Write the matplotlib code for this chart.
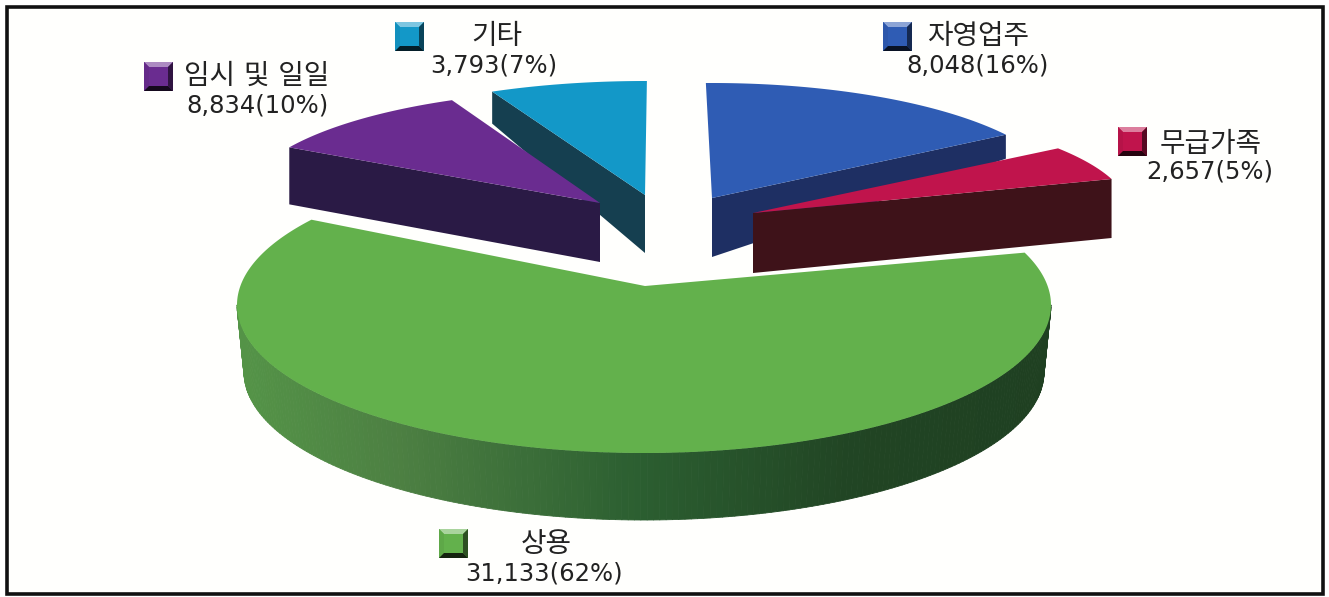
import numpy as np
import matplotlib
matplotlib.use("Agg")
import matplotlib.pyplot as plt
from matplotlib.patches import Polygon, Rectangle
from matplotlib.collections import PolyCollection
from matplotlib.colors import to_rgb

plt.rcParams['font.family'] = ['DejaVu Sans', 'Noto Sans CJK KR']

# data
categories = ["자영업주", "무급가족", "상용", "임시 및 일일", "기타"]
counts = [8048, 2657, 31133, 8834, 3793]
shares = [16, 5, 62, 10, 7]

# colours: top face, side face
top_colors = ["#2f5cb4", "#c0144c", "#63b14c", "#6a2c90", "#1398c8"]
side_colors = ["#1e2f63", "#3e1219", "#2f6a30", "#2a1a45", "#153f50"]

# each slice was exploded and squashed on its own in the original
# cx, cy = ellipse centre, rx, ry, start angle, sweep stretch, depth at outer edge, depth at apex
slice_geom = {
    "자영업주": dict(cx=712, cy=198, rx=352, ry=115, start=91, stretch=1.0, outer=24, apex=59),
    "무급가족": dict(cx=753, cy=213, rx=377, ry=110, start=36, stretch=1.0, outer=59, apex=60),
    "임시 및 일일": dict(cx=600, cy=203, rx=357, ry=113, start=114.5, stretch=1.0, outer=57, apex=59),
    "기타": dict(cx=645, cy=195, rx=363, ry=114, start=89.7, stretch=1.0, outer=32, apex=58),
}
# green one is the big base, its apex sits above the ellipse centre
green = dict(cx=644, cy=305, rx=407, ry=148, ax=645, ay=286, left=144.8, stretch=1.057,
             drop=67, rx_low=400)

# marker box (left, top, size) and text centres
marker_pos = {
    "자영업주": (883, 22, 29), "무급가족": (1118, 127, 29), "상용": (439, 529, 29),
    "임시 및 일일": (144, 62, 29), "기타": (395, 22, 29),
}
name_pos = {
    "자영업주": (978, 36), "무급가족": (1211, 144), "상용": (546, 544),
    "임시 및 일일": (257, 76), "기타": (497, 36),
}
value_pos = {
    "자영업주": (978, 65), "무급가족": (1210, 172), "상용": (544, 573),
    "임시 및 일일": (257, 105), "기타": (494, 65),
}


def arc(g, a, b, n=80):
    t = np.radians(np.linspace(a, b, n))
    return g['cx'] + g['rx'] * np.cos(t), g['cy'] - g['ry'] * np.sin(t)


def shade(color, f):
    c = np.array(to_rgb(color))
    if f > 1:
        return tuple(c + (1 - c) * (f - 1))
    return tuple(c * f)


def draw_slice(ax, name, z):
    i = categories.index(name)
    g = slice_geom[name]
    sweep = shares[i] * 3.6 * g['stretch']
    # clockwise on screen for the right side, the left ones go the other way
    end = g['start'] - sweep if g['cx'] > 650 else g['start'] + sweep
    x, y = arc(g, g['start'], end)
    # cut face runs from the arc end back to the apex
    face = [(x[-1], y[-1]), (g['cx'], g['cy']), (g['cx'], g['cy'] + g['apex']),
            (x[-1], y[-1] + g['outer'])]
    ax.add_patch(Polygon(face, closed=True, fc=side_colors[i], ec='none', zorder=z))
    top = np.column_stack([np.r_[g['cx'], x], np.r_[g['cy'], y]])
    ax.add_patch(Polygon(top, closed=True, fc=top_colors[i], ec='none', zorder=z + 0.1))


def draw_green(ax):
    i = categories.index("상용")
    g = green
    sweep = shares[i] * 3.6 * g['stretch']
    x, y = arc(g, g['left'], g['left'] + sweep, 300)
    # side only shows on the front half
    t = np.linspace(180, 360, 200)
    xs, ys = arc(g, 180, 360, 200)
    xl = g['cx'] + g['rx_low'] * np.cos(np.radians(t))
    yl = ys + g['drop']
    # side gets darker going left to right
    stops_x = [237, 400, 640, 850, 1050]
    stops = [(0.33, 0.58, 0.28), (0.30, 0.50, 0.26), (0.17, 0.37, 0.19), (0.13, 0.27, 0.14),
             (0.12, 0.25, 0.13)]
    cols, verts = [], []
    for k in range(len(t) - 1):
        mid = (xs[k] + xs[k + 1]) / 2
        cols.append([np.interp(mid, stops_x, [s[c] for s in stops]) for c in range(3)])
        verts.append([(xs[k], ys[k]), (xs[k + 1], ys[k + 1]), (xl[k + 1], yl[k + 1]), (xl[k], yl[k])])
    ax.add_collection(PolyCollection(verts, facecolors=cols, edgecolors=cols, linewidths=0.6, zorder=1))
    top = np.column_stack([np.r_[g['ax'], x], np.r_[g['ay'], y]])
    ax.add_patch(Polygon(top, closed=True, fc=top_colors[i], ec='none', zorder=1.1))


def draw_marker(ax, name):
    color = top_colors[categories.index(name)]
    x0, y0, s = marker_pos[name]
    b = 5
    x1, y1 = x0 + s, y0 + s
    ax.add_patch(Rectangle((x0, y0), s, s, fc=color, ec='none', zorder=5))
    bevels = [
        ([(x0, y0), (x1, y0), (x1 - b, y0 + b), (x0 + b, y0 + b)], shade(color, 1.45)),
        ([(x0, y0), (x0 + b, y0 + b), (x0 + b, y1 - b), (x0, y1)], shade(color, 0.95)),
        ([(x1, y0), (x1 - b, y0 + b), (x1 - b, y1 - b), (x1, y1)], shade(color, 0.45)),
        ([(x0, y1), (x0 + b, y1 - b), (x1 - b, y1 - b), (x1, y1)], shade(color, 0.2)),
    ]
    for pts, c in bevels:
        ax.add_patch(Polygon(pts, closed=True, fc=c, ec='none', zorder=5.1))


fig = plt.figure(figsize=(13.29, 5.97), dpi=100, facecolor='white')
ax = fig.add_axes([0, 0, 1, 1])
ax.set_xlim(0, 1329)
ax.set_ylim(597, 0)
ax.axis('off')

ax.add_patch(Rectangle((7, 7), 1316, 587, fc='#fffffd', ec='#111111', lw=2.6, zorder=0))

draw_slice(ax, "기타", 2)
draw_slice(ax, "임시 및 일일", 3)
draw_slice(ax, "자영업주", 2)
draw_green(ax)
draw_slice(ax, "무급가족", 3)

for i, name in enumerate(categories):
    draw_marker(ax, name)
    ax.text(*name_pos[name], name, fontsize=20, color='#222222', ha='center', va='center', zorder=6)
    ax.text(*value_pos[name], f"{counts[i]:,}({shares[i]}%)", fontsize=17.5, color='#222222',
            ha='center', va='center', zorder=6)

fig.savefig("out.png", dpi=100)
